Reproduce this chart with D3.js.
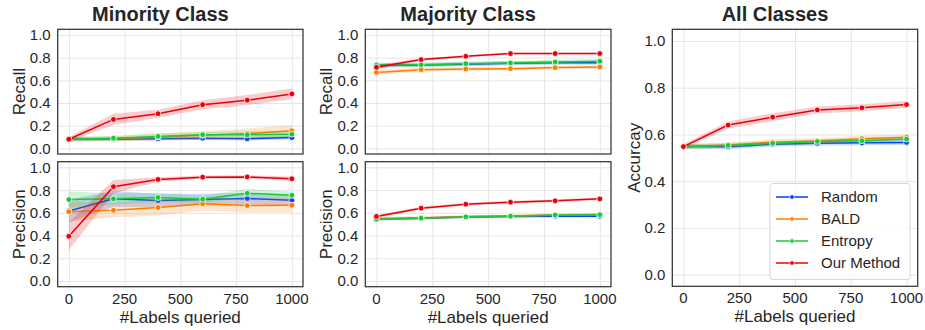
<!DOCTYPE html>
<html>
<head>
<meta charset="utf-8">
<script src="https://cdn.jsdelivr.net/npm/d3@7"></script>
<style>
  body { margin: 0; background: #fff; }
  svg text { font-family: "Liberation Sans", Arial, sans-serif; fill: #262626; }
</style>
</head>
<body>
<svg id="chart" width="925" height="330"></svg>
<script>
// x values and labels
const labelsQueried = [0, 200, 400, 600, 800, 1000];
const methods = ['Random', 'BALD', 'Entropy', 'Our Method'];
const colors = ['#023eff', '#ff7c00', '#1ac938', '#e8000b'];
const xTicks = [0, 250, 500, 750, 1000];
const yTicks = [0, 0.2, 0.4, 0.6, 0.8, 1.0];

// rows: Random, BALD, Entropy, Our Method
const minorityRecall = [
    [0.08, 0.08, 0.085, 0.09, 0.085, 0.095],
    [0.08, 0.085, 0.10, 0.115, 0.13, 0.155],
    [0.08, 0.09, 0.105, 0.12, 0.12, 0.125],
    [0.08, 0.255, 0.305, 0.385, 0.425, 0.48]
];
const minorityRecallErr = [
    [0.02, 0.015, 0.015, 0.015, 0.015, 0.015],
    [0.02, 0.02, 0.03, 0.035, 0.045, 0.05],
    [0.02, 0.02, 0.025, 0.025, 0.03, 0.03],
    [0.02, 0.05, 0.035, 0.04, 0.045, 0.048]
];
const minorityPrecision = [
    [0.617, 0.723, 0.708, 0.717, 0.726, 0.71],
    [0.61, 0.622, 0.647, 0.68, 0.664, 0.667],
    [0.717, 0.723, 0.735, 0.72, 0.772, 0.755],
    [0.394, 0.83, 0.894, 0.914, 0.916, 0.90]
];
const minorityPrecisionErr = [
    [0.10, 0.07, 0.06, 0.05, 0.05, 0.05],
    [0.09, 0.06, 0.07, 0.06, 0.06, 0.065],
    [0.07, 0.05, 0.04, 0.03, 0.04, 0.03],
    [0.12, 0.06, 0.02, 0.015, 0.015, 0.02]
];
const majorityRecall = [
    [0.73, 0.735, 0.742, 0.75, 0.755, 0.756],
    [0.67, 0.694, 0.70, 0.703, 0.712, 0.718],
    [0.735, 0.738, 0.747, 0.753, 0.762, 0.768],
    [0.715, 0.783, 0.812, 0.836, 0.836, 0.836]
];
const majorityRecallErr = [
    [0.02, 0.018, 0.018, 0.018, 0.018, 0.018],
    [0.02, 0.018, 0.015, 0.015, 0.015, 0.015],
    [0.02, 0.018, 0.018, 0.018, 0.018, 0.018],
    [0.02, 0.012, 0.01, 0.008, 0.008, 0.008]
];
const majorityPrecision = [
    [0.545, 0.553, 0.563, 0.568, 0.57, 0.57],
    [0.55, 0.555, 0.567, 0.573, 0.58, 0.585],
    [0.544, 0.553, 0.565, 0.571, 0.58, 0.583],
    [0.568, 0.641, 0.676, 0.694, 0.706, 0.723]
];
const majorityPrecisionErr = [
    [0.012, 0.01, 0.01, 0.01, 0.01, 0.01],
    [0.015, 0.015, 0.012, 0.012, 0.012, 0.012],
    [0.012, 0.01, 0.01, 0.01, 0.01, 0.01],
    [0.012, 0.012, 0.012, 0.012, 0.012, 0.012]
];
const accuracy = [
    [0.548, 0.547, 0.558, 0.562, 0.564, 0.566],
    [0.548, 0.555, 0.567, 0.572, 0.582, 0.588],
    [0.548, 0.553, 0.562, 0.57, 0.573, 0.58],
    [0.548, 0.64, 0.674, 0.705, 0.714, 0.728]
];
const accuracyErr = [
    [0.01, 0.01, 0.01, 0.01, 0.01, 0.01],
    [0.01, 0.012, 0.012, 0.012, 0.012, 0.012],
    [0.01, 0.01, 0.01, 0.01, 0.01, 0.01],
    [0.01, 0.015, 0.017, 0.015, 0.015, 0.015]
];

const svg = d3.select('#chart');

const panels = [
    {x0: 57.7, x1: 303, y0: 29.3, y1: 154, data: minorityRecall, err: minorityRecallErr,
     ylabel: 'Recall', ylabelX: 19, title: 'Minority Class', xlabels: false},
    {x0: 57.7, x1: 303, y0: 161.7, y1: 286.7, data: minorityPrecision, err: minorityPrecisionErr,
     ylabel: 'Precision', ylabelX: 19, xlabels: true},
    {x0: 365.3, x1: 611, y0: 29.3, y1: 154, data: majorityRecall, err: majorityRecallErr,
     ylabel: 'Recall', ylabelX: 326, title: 'Majority Class', xlabels: false},
    {x0: 365.3, x1: 611, y0: 161.7, y1: 286.7, data: majorityPrecision, err: majorityPrecisionErr,
     ylabel: 'Precision', ylabelX: 326, xlabels: true},
    {x0: 672.3, x1: 917.7, y0: 29.3, y1: 286.3, data: accuracy, err: accuracyErr,
     ylabel: 'Accurcay', ylabelX: 634, title: 'All Classes', xlabels: true, legend: true}
];

var drawPanel = function(p) {
    const x = d3.scaleLinear().domain([-50, 1050]).range([p.x0, p.x1]);
    const y = d3.scaleLinear().domain([-0.05, 1.05]).range([p.y1, p.y0]);
    const g = svg.append('g');

    // grid
    g.append('g')
        .attr('transform', `translate(0, ${p.y1})`)
        .call(d3.axisBottom(x).tickValues(xTicks).tickSize(-(p.y1 - p.y0)).tickFormat(''))
        .call(a => a.select('.domain').remove())
        .selectAll('line').attr('stroke', '#e6e6e6').attr('stroke-width', 1);
    g.append('g')
        .attr('transform', `translate(${p.x0}, 0)`)
        .call(d3.axisLeft(y).tickValues(yTicks).tickSize(-(p.x1 - p.x0)).tickFormat(''))
        .call(a => a.select('.domain').remove())
        .selectAll('line').attr('stroke', '#e6e6e6').attr('stroke-width', 1);

    // y tick labels
    g.selectAll('.ytl').data(yTicks).enter().append('text')
        .attr('x', p.x0 - 7)
        .attr('y', d => y(d))
        .attr('dy', '0.36em')
        .attr('text-anchor', 'end')
        .style('font-size', '15px')
        .text(d => d3.format('.1f')(d));

    if (p.xlabels) {
        g.selectAll('.xtl').data(xTicks).enter().append('text')
            .attr('x', d => x(d))
            .attr('y', p.y1 + 17)
            .attr('text-anchor', 'middle')
            .style('font-size', '15px')
            .text(d => d);
        g.append('text')
            .attr('x', (p.x0 + p.x1) / 2)
            .attr('y', p.y1 + 36)
            .attr('text-anchor', 'middle')
            .style('font-size', '17px')
            .text('#Labels queried');
    }

    g.append('text')
        .attr('transform', `translate(${p.ylabelX}, ${(p.y0 + p.y1) / 2}) rotate(-90)`)
        .attr('dy', '0.35em')
        .attr('text-anchor', 'middle')
        .style('font-size', '17px')
        .text(p.ylabel);

    if (p.title) {
        g.append('text')
            .attr('x', (p.x0 + p.x1) / 2 - 20)
            .attr('y', 21)
            .attr('text-anchor', 'middle')
            .style('font-size', '20px')
            .style('font-weight', 'bold')
            .text(p.title);
    }

    const area = d3.area()
        .x(d => x(d.x))
        .y0(d => y(d.m - d.e))
        .y1(d => y(d.m + d.e));
    const line = d3.line()
        .x(d => x(d.x))
        .y(d => y(d.m));

    p.data.forEach((vals, i) => {
        const pts = labelsQueried.map((lx, j) => ({x: lx, m: vals[j], e: p.err[i][j]}));
        g.append('path')
            .datum(pts)
            .attr('d', area)
            .attr('fill', colors[i])
            .attr('fill-opacity', 0.2);
        g.append('path')
            .datum(pts)
            .attr('d', line)
            .attr('fill', 'none')
            .attr('stroke', colors[i])
            .attr('stroke-width', 1.5);
        g.selectAll(null).data(pts).enter().append('circle')
            .attr('cx', d => x(d.x))
            .attr('cy', d => y(d.m))
            .attr('r', 2.9)
            .attr('fill', colors[i])
            .attr('stroke', '#fff')
            .attr('stroke-width', 0.8);
    });

    // frame
    g.append('rect')
        .attr('x', p.x0).attr('y', p.y0)
        .attr('width', p.x1 - p.x0).attr('height', p.y1 - p.y0)
        .attr('fill', 'none')
        .attr('stroke', '#333')
        .attr('stroke-width', 1.25);

    if (p.legend) {
        const lg = g.append('g');
        lg.append('rect')
            .attr('x', 770).attr('y', 183.5)
            .attr('width', 140).attr('height', 96)
            .attr('rx', 3)
            .attr('fill', '#fff').attr('fill-opacity', 0.8)
            .attr('stroke', '#d6d6d6').attr('stroke-width', 1);
        methods.forEach((m, i) => {
            const ly = 197 + i * 22;
            lg.append('line')
                .attr('x1', 776).attr('x2', 808)
                .attr('y1', ly).attr('y2', ly)
                .attr('stroke', colors[i]).attr('stroke-width', 1.5);
            lg.append('circle')
                .attr('cx', 792).attr('cy', ly).attr('r', 2.2)
                .attr('fill', colors[i]).attr('stroke', '#fff').attr('stroke-width', 0.6);
            lg.append('text')
                .attr('x', 821).attr('y', ly)
                .attr('dy', '0.36em')
                .style('font-size', '15px')
                .text(m);
        });
    }
};

panels.forEach(drawPanel);
</script>
</body>
</html>
